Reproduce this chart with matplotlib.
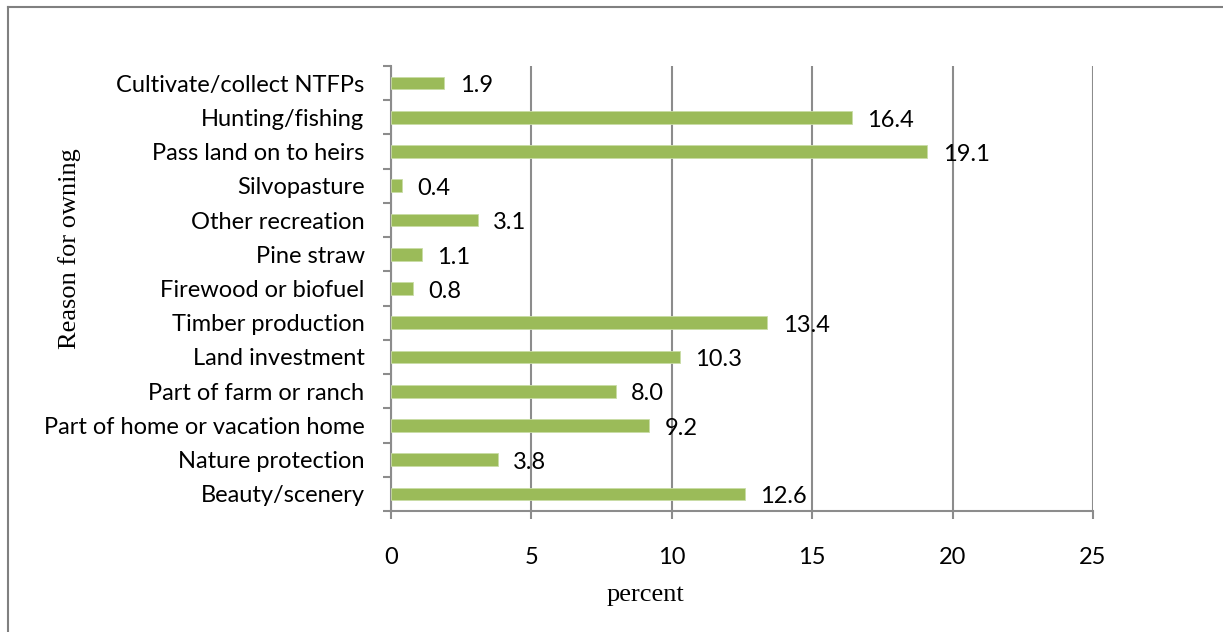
import matplotlib
matplotlib.use("Agg")
import matplotlib.pyplot as plt
from matplotlib.lines import Line2D
import numpy as np

# Reasons for owning forest land, listed bottom to top
reasons = [
    "Beauty/scenery",
    "Nature protection",
    "Part of home or vacation home",
    "Part of farm or ranch",
    "Land investment",
    "Timber production",
    "Firewood or biofuel",
    "Pine straw",
    "Other recreation",
    "Silvopasture",
    "Pass land on to heirs",
    "Hunting/fishing",
    "Cultivate/collect NTFPs",
]
percent = [12.6, 3.8, 9.2, 8.0, 10.3, 13.4, 0.8, 1.1, 3.1, 0.4, 19.1, 16.4, 1.9]
x_ticks = [0, 5, 10, 15, 20, 25]

BAR_GREEN = "#9BBB59"
GRID_GRAY = "#8C8C8C"
SANS = ["Lato", "DejaVu Sans"]
SERIF = ["Liberation Serif", "DejaVu Serif"]
FS = 17

fig = plt.figure(figsize=(12.23, 6.32), dpi=100)
ax = fig.add_axes([391 / 1223, 1 - 511 / 632, (1093 - 391) / 1223, (511 - 66) / 632])

y = np.arange(len(reasons))
ax.barh(y, percent, height=0.37, color=BAR_GREEN, edgecolor="#C9DDA6",
        linewidth=0.6, zorder=3)

# value labels to the right of each bar
for yi, v in zip(y, percent):
    ax.annotate(f"{v:.1f}", xy=(v, yi), xytext=(11, -2), textcoords="offset points",
                ha="left", va="center", fontsize=FS, family=SANS, color="black",
                zorder=4)

ax.set_xlim(0, 25)
ax.set_ylim(-0.5, len(reasons) - 0.5)
ax.set_xticks(x_ticks)
ax.set_xticklabels([str(t) for t in x_ticks], family=SANS, fontsize=FS)
ax.set_yticks(y)
ax.set_yticklabels(reasons, family=SANS, fontsize=FS)

# y ticks sit on the category boundaries
ax.set_yticks(np.arange(-0.5, len(reasons), 1.0), minor=True)
ax.tick_params(axis="y", which="major", length=0, pad=19)
ax.tick_params(axis="y", which="minor", length=6, width=1.5, color=GRID_GRAY)
ax.tick_params(axis="x", which="major", length=6, width=1.5, color=GRID_GRAY, pad=20)

ax.xaxis.grid(True, color=GRID_GRAY, linewidth=1.5, zorder=0)
ax.set_axisbelow(True)
for side in ("top", "right"):
    ax.spines[side].set_visible(False)
for side in ("left", "bottom"):
    ax.spines[side].set_color(GRID_GRAY)
    ax.spines[side].set_linewidth(1.5)

ax.set_xlabel("percent", family=SERIF, fontsize=19)
ax.xaxis.set_label_coords(0.363, -0.165)
ax.set_ylabel("Reason for owning", family=SERIF, fontsize=19)
ax.yaxis.set_label_coords(-0.441, 0.589)

# chart frame (left and top edges)
fig.add_artist(Line2D([8 / 1223, 8 / 1223], [0, 1 - 7 / 632], transform=fig.transFigure,
                      color="#808080", linewidth=1.5))
fig.add_artist(Line2D([8 / 1223, 1], [1 - 7 / 632, 1 - 7 / 632], transform=fig.transFigure,
                      color="#808080", linewidth=1.5))

fig.savefig("out.png", dpi=100, facecolor="white")
